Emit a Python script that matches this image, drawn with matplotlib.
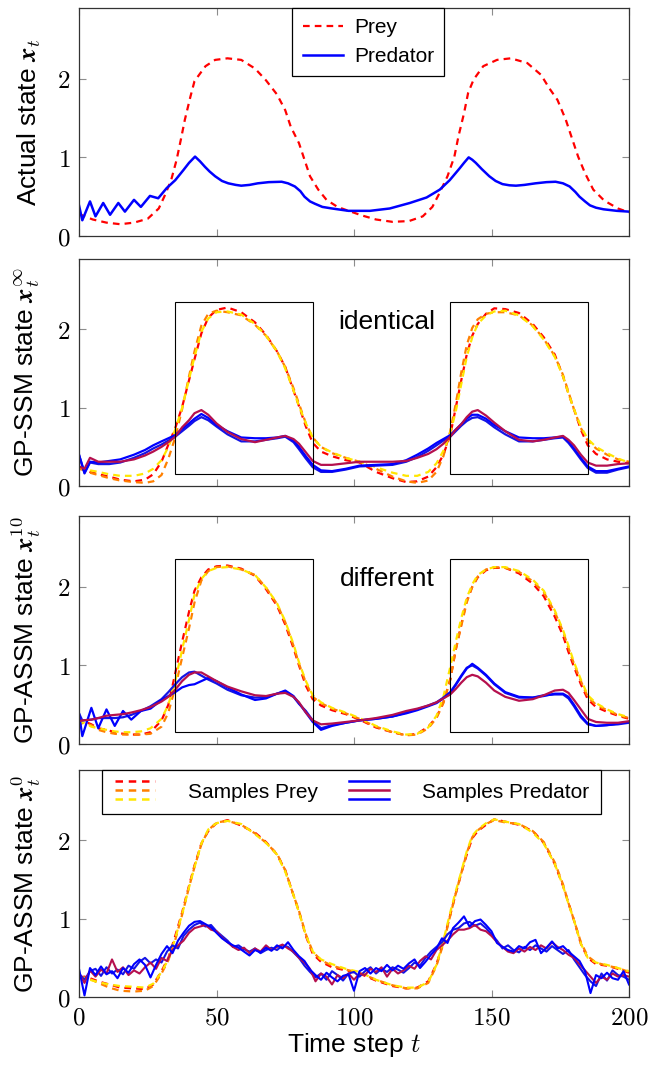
import numpy as np
import matplotlib
matplotlib.use('Agg')
import matplotlib.pyplot as plt
from matplotlib.lines import Line2D
from matplotlib.legend_handler import HandlerBase
from matplotlib.patches import Rectangle
from matplotlib.ticker import FixedLocator, FuncFormatter

plt.rcParams['font.family'] = ['Liberation Sans', 'DejaVu Sans']
plt.rcParams['mathtext.fontset'] = 'cm'

# ---- panel 1: actual state ----
t_true_prey = [0, 5, 10, 15, 20, 25, 29, 31, 33.5, 35.5, 37, 38.5, 40.5, 42, 46, 49.5, 54, 59, 64, 68,
               72, 75, 77, 80, 82, 84, 87, 90, 94, 98, 103, 108, 114, 120, 125, 128.5, 131, 134, 136.5, 138,
               140, 141.5, 143.5, 147, 152, 157, 163, 168, 171, 174, 177, 179, 181.5, 184, 187, 191, 196, 200]
true_prey = [0.28, 0.21, 0.17, 0.15, 0.17, 0.22, 0.35, 0.50, 0.71, 0.97, 1.22, 1.48, 1.77, 1.97, 2.16, 2.24, 2.26, 2.24, 2.13, 1.98,
             1.80, 1.60, 1.39, 1.18, 0.97, 0.76, 0.59, 0.46, 0.37, 0.32, 0.26, 0.21, 0.18, 0.19, 0.25, 0.37, 0.54, 0.76, 1.01, 1.27,
             1.56, 1.82, 1.99, 2.16, 2.24, 2.26, 2.20, 2.05, 1.88, 1.73, 1.48, 1.27, 1.01, 0.80, 0.59, 0.45, 0.35, 0.30]
t_true_pred = [0, 1.2, 4, 6, 8.8, 11.3, 14.3, 16.7, 20, 22.5, 25.8, 28.8, 31.9, 35, 38, 40, 42.2, 44, 45.8, 47.5,
               49.5, 52, 54.3, 57, 59, 62, 65, 69, 73.7, 76, 78.5, 80.5, 82, 84, 85.8, 88.5, 92, 98, 105.8, 113,
               120.3, 126.4, 131.2, 134.8, 138.4, 140, 141.7, 143, 144.3, 146.5, 149.2, 151.5, 154, 156.5, 158.9, 162, 166, 170, 173.3, 176,
               178.4, 180.5, 182, 184, 185.8, 188, 190.7, 195.6, 200]
true_pred = [0.39, 0.20, 0.44, 0.25, 0.42, 0.27, 0.42, 0.31, 0.46, 0.37, 0.51, 0.48, 0.61, 0.71, 0.84, 0.93, 1.01, 0.95, 0.88, 0.82,
             0.76, 0.70, 0.67, 0.65, 0.64, 0.65, 0.67, 0.685, 0.69, 0.67, 0.63, 0.57, 0.50, 0.44, 0.41, 0.37, 0.35, 0.32, 0.32, 0.35,
             0.42, 0.49, 0.59, 0.71, 0.86, 0.93, 1.00, 0.97, 0.93, 0.85, 0.76, 0.70, 0.66, 0.645, 0.64, 0.65, 0.67, 0.685, 0.69, 0.67,
             0.63, 0.56, 0.50, 0.44, 0.39, 0.36, 0.34, 0.32, 0.31]

# ---- panel 2: GP-SSM ----
t_ssm = [0, 2, 4, 7, 11, 15, 20, 24, 27, 30,
         32.5, 35, 37.5, 40, 42, 44.5, 47, 50, 54, 59,
         64, 68, 72, 75, 78, 80, 82.5, 85, 88, 92,
         97, 102, 108, 114, 119, 123, 127, 130, 132.5, 135,
         137, 139, 141, 143, 145, 148, 151, 155, 160, 165,
         169, 173, 176, 178, 180, 182.5, 185, 188, 192, 196, 200]
ssm_prey_red = [0.25, 0.21, 0.18, 0.15, 0.12, 0.08, 0.06, 0.08, 0.15, 0.31,
                0.53, 0.74, 1.01, 1.35, 1.62, 1.95, 2.15, 2.25, 2.28, 2.22,
                2.09, 1.93, 1.72, 1.52, 1.22, 1.02, 0.76, 0.55, 0.44, 0.38,
                0.33, 0.30, 0.18, 0.10, 0.05, 0.06, 0.12, 0.24, 0.40, 0.65,
                1.00, 1.35, 1.68, 1.92, 2.07, 2.20, 2.27, 2.26, 2.21, 2.07,
                1.90, 1.68, 1.40, 1.18, 0.98, 0.72, 0.52, 0.41, 0.34, 0.31, 0.29]
ssm_prey_orange = [0.22, 0.20, 0.17, 0.14, 0.10, 0.07, 0.05, 0.04, 0.06, 0.14,
                   0.35, 0.62, 0.98, 1.40, 1.72, 2.05, 2.20, 2.24, 2.22, 2.18,
                   2.06, 1.92, 1.72, 1.52, 1.25, 1.05, 0.80, 0.62, 0.50, 0.42,
                   0.36, 0.31, 0.22, 0.12, 0.06, 0.04, 0.07, 0.18, 0.38, 0.70,
                   1.05, 1.45, 1.80, 2.02, 2.13, 2.20, 2.22, 2.22, 2.18, 2.05,
                   1.88, 1.66, 1.42, 1.20, 0.98, 0.74, 0.58, 0.48, 0.40, 0.34, 0.31]
ssm_prey_yellow = [0.25, 0.22, 0.20, 0.18, 0.15, 0.13, 0.13, 0.16, 0.22, 0.33,
                   0.50, 0.72, 1.00, 1.36, 1.65, 1.97, 2.14, 2.22, 2.23, 2.19,
                   2.07, 1.92, 1.72, 1.50, 1.22, 1.02, 0.80, 0.62, 0.50, 0.43,
                   0.36, 0.31, 0.24, 0.17, 0.13, 0.13, 0.18, 0.29, 0.45, 0.68,
                   0.95, 1.30, 1.65, 1.90, 2.07, 2.18, 2.23, 2.24, 2.18, 2.04,
                   1.87, 1.65, 1.40, 1.18, 0.98, 0.76, 0.60, 0.50, 0.42, 0.35, 0.30]
ssm_pred_blue1 = [0.40, 0.17, 0.31, 0.30, 0.32, 0.34, 0.40, 0.46, 0.52, 0.57,
                  0.61, 0.65, 0.73, 0.80, 0.86, 0.92, 0.87, 0.78, 0.70, 0.62,
                  0.61, 0.61, 0.62, 0.64, 0.58, 0.50, 0.38, 0.27, 0.20, 0.19,
                  0.22, 0.26, 0.27, 0.28, 0.33, 0.40, 0.48, 0.55, 0.60, 0.65,
                  0.72, 0.79, 0.86, 0.91, 0.91, 0.86, 0.78, 0.70, 0.62, 0.61,
                  0.61, 0.62, 0.63, 0.57, 0.48, 0.36, 0.25, 0.19, 0.19, 0.22, 0.25]
ssm_pred_purple = [0.25, 0.22, 0.36, 0.31, 0.31, 0.31, 0.34, 0.39, 0.44, 0.50,
                   0.56, 0.63, 0.75, 0.84, 0.93, 0.97, 0.91, 0.80, 0.69, 0.60,
                   0.56, 0.59, 0.62, 0.64, 0.60, 0.54, 0.43, 0.32, 0.27, 0.27,
                   0.29, 0.31, 0.31, 0.31, 0.32, 0.36, 0.41, 0.47, 0.54, 0.63,
                   0.72, 0.79, 0.88, 0.95, 0.97, 0.90, 0.81, 0.70, 0.59, 0.57,
                   0.59, 0.62, 0.64, 0.59, 0.52, 0.40, 0.30, 0.26, 0.26, 0.28, 0.29]
ssm_pred_blue2 = [0.40, 0.16, 0.30, 0.28, 0.28, 0.30, 0.36, 0.42, 0.48, 0.53,
                  0.58, 0.63, 0.70, 0.77, 0.83, 0.88, 0.84, 0.76, 0.66, 0.57,
                  0.57, 0.59, 0.61, 0.63, 0.56, 0.47, 0.35, 0.24, 0.18, 0.18,
                  0.21, 0.25, 0.26, 0.27, 0.31, 0.37, 0.45, 0.52, 0.58, 0.63,
                  0.70, 0.77, 0.83, 0.87, 0.88, 0.83, 0.75, 0.66, 0.57, 0.57,
                  0.59, 0.61, 0.62, 0.55, 0.46, 0.34, 0.23, 0.17, 0.17, 0.21, 0.24]

# ---- panel 3: GP-ASSM, 10 steps ----
t_assm = [0, 1.2, 4.5, 7, 10, 13, 16, 19, 22.5, 26, 30,
          32.5, 35, 37.5, 40, 42, 44.5, 47, 50, 54, 59,
          64, 68, 72, 75, 78, 80, 82.5, 85, 88, 92,
          97, 102, 108, 114, 119, 123, 127, 130, 132.5, 135,
          137, 139, 141, 143, 145, 148, 151, 155, 160, 165,
          169, 173, 176, 178, 180, 182.5, 185, 188, 192, 196, 200]
assm_prey_red = [0.24, 0.30, 0.25, 0.20, 0.18, 0.15, 0.13, 0.12, 0.12, 0.15, 0.30,
                 0.50, 0.90, 1.30, 1.68, 1.95, 2.12, 2.22, 2.26, 2.27, 2.23,
                 2.14, 1.97, 1.76, 1.52, 1.22, 1.00, 0.74, 0.57, 0.49, 0.43,
                 0.38, 0.31, 0.21, 0.15, 0.11, 0.13, 0.22, 0.34, 0.53, 0.82,
                 1.20, 1.52, 1.82, 2.00, 2.12, 2.21, 2.24, 2.24, 2.17, 2.04,
                 1.88, 1.62, 1.38, 1.17, 0.98, 0.76, 0.57, 0.47, 0.41, 0.36, 0.32]
assm_prey_orange = [0.22, 0.27, 0.24, 0.18, 0.15, 0.13, 0.12, 0.12, 0.12, 0.13, 0.22,
                    0.40, 0.72, 1.10, 1.47, 1.80, 2.08, 2.20, 2.25, 2.26, 2.22,
                    2.15, 1.99, 1.78, 1.55, 1.25, 1.02, 0.78, 0.60, 0.52, 0.45,
                    0.39, 0.32, 0.22, 0.15, 0.11, 0.12, 0.20, 0.33, 0.52, 0.82,
                    1.20, 1.50, 1.80, 2.00, 2.13, 2.22, 2.25, 2.24, 2.19, 2.07,
                    1.93, 1.68, 1.43, 1.22, 1.02, 0.80, 0.60, 0.50, 0.43, 0.37, 0.33]
assm_prey_yellow = [0.25, 0.28, 0.22, 0.20, 0.18, 0.16, 0.15, 0.15, 0.16, 0.20, 0.32,
                    0.50, 0.80, 1.20, 1.58, 1.90, 2.10, 2.20, 2.24, 2.25, 2.22,
                    2.15, 1.99, 1.79, 1.56, 1.27, 1.04, 0.80, 0.62, 0.53, 0.46,
                    0.40, 0.33, 0.23, 0.16, 0.12, 0.13, 0.21, 0.36, 0.60, 0.98,
                    1.30, 1.60, 1.86, 2.03, 2.15, 2.22, 2.25, 2.25, 2.20, 2.09,
                    1.95, 1.70, 1.45, 1.25, 1.04, 0.82, 0.62, 0.52, 0.44, 0.38, 0.34]
assm_pred_blue1 = [0.39, 0.10, 0.46, 0.20, 0.44, 0.23, 0.42, 0.31, 0.42, 0.45, 0.56,
                   0.61, 0.66, 0.72, 0.75, 0.76, 0.80, 0.84, 0.80, 0.72, 0.63,
                   0.56, 0.58, 0.64, 0.68, 0.61, 0.52, 0.40, 0.28, 0.18, 0.23,
                   0.27, 0.30, 0.32, 0.35, 0.39, 0.43, 0.48, 0.52, 0.58, 0.65,
                   0.75, 0.86, 0.96, 1.02, 0.97, 0.88, 0.77, 0.66, 0.60, 0.59,
                   0.61, 0.64, 0.64, 0.60, 0.50, 0.36, 0.26, 0.23, 0.24, 0.26, 0.28]
assm_pred_purple = [0.29, 0.30, 0.31, 0.33, 0.36, 0.37, 0.38, 0.40, 0.43, 0.47, 0.54,
                    0.60, 0.69, 0.80, 0.88, 0.91, 0.91, 0.86, 0.80, 0.73, 0.67,
                    0.62, 0.61, 0.64, 0.65, 0.60, 0.53, 0.40, 0.30, 0.25, 0.26,
                    0.28, 0.30, 0.33, 0.37, 0.42, 0.45, 0.49, 0.53, 0.58, 0.63,
                    0.70, 0.78, 0.85, 0.88, 0.86, 0.78, 0.68, 0.60, 0.55, 0.57,
                    0.62, 0.68, 0.69, 0.65, 0.56, 0.44, 0.32, 0.28, 0.27, 0.27, 0.29]
assm_pred_blue2 = [0.39, 0.30, 0.31, 0.33, 0.33, 0.33, 0.34, 0.37, 0.42, 0.48, 0.57,
                   0.66, 0.76, 0.85, 0.91, 0.92, 0.87, 0.82, 0.77, 0.69, 0.62,
                   0.59, 0.60, 0.64, 0.67, 0.60, 0.51, 0.42, 0.30, 0.20, 0.24,
                   0.27, 0.30, 0.32, 0.35, 0.40, 0.44, 0.49, 0.53, 0.59, 0.66,
                   0.76, 0.87, 0.97, 1.00, 0.96, 0.87, 0.76, 0.65, 0.59, 0.59,
                   0.62, 0.63, 0.63, 0.58, 0.48, 0.34, 0.25, 0.23, 0.24, 0.25, 0.27]

# ---- panel 4: GP-ASSM, 0 steps (samples) ----
t_samp_prey = t_ssm
samp_prey_red = [0.25, 0.26, 0.24, 0.20, 0.16, 0.12, 0.11, 0.10, 0.16, 0.33,
                 0.50, 0.78, 1.08, 1.42, 1.68, 1.96, 2.12, 2.22, 2.26, 2.19,
                 2.10, 1.98, 1.82, 1.62, 1.30, 1.09, 0.78, 0.55, 0.45, 0.38,
                 0.34, 0.30, 0.21, 0.14, 0.11, 0.12, 0.20, 0.42, 0.70, 1.05,
                 1.32, 1.58, 1.82, 2.03, 2.12, 2.20, 2.27, 2.24, 2.20, 2.12,
                 1.97, 1.70, 1.42, 1.20, 0.98, 0.68, 0.50, 0.42, 0.40, 0.36, 0.31]
samp_prey_orange = [0.24, 0.25, 0.23, 0.18, 0.12, 0.08, 0.07, 0.08, 0.14, 0.30,
                    0.47, 0.73, 1.05, 1.40, 1.66, 1.95, 2.13, 2.23, 2.25, 2.20,
                    2.09, 1.97, 1.83, 1.62, 1.30, 1.10, 0.80, 0.58, 0.47, 0.40,
                    0.35, 0.31, 0.22, 0.15, 0.11, 0.11, 0.18, 0.40, 0.68, 1.04,
                    1.32, 1.58, 1.84, 2.04, 2.13, 2.21, 2.26, 2.23, 2.21, 2.12,
                    1.98, 1.72, 1.44, 1.20, 0.98, 0.70, 0.52, 0.44, 0.40, 0.37, 0.32]
samp_prey_yellow = [0.26, 0.24, 0.22, 0.19, 0.16, 0.14, 0.13, 0.12, 0.17, 0.32,
                    0.48, 0.75, 1.06, 1.40, 1.66, 1.96, 2.14, 2.22, 2.25, 2.21,
                    2.08, 1.97, 1.82, 1.60, 1.30, 1.08, 0.79, 0.58, 0.48, 0.42,
                    0.36, 0.32, 0.22, 0.15, 0.12, 0.12, 0.19, 0.41, 0.72, 1.08,
                    1.35, 1.60, 1.86, 2.06, 2.14, 2.22, 2.27, 2.24, 2.21, 2.10,
                    1.96, 1.70, 1.42, 1.19, 0.98, 0.68, 0.50, 0.44, 0.41, 0.37, 0.33]
t_samp_pred = np.arange(0, 201, 2)
samp_pred_blue1 = [0.36, 0.02, 0.37, 0.28, 0.39, 0.29, 0.33, 0.24, 0.37, 0.31,
                   0.42, 0.48, 0.41, 0.25, 0.41, 0.55, 0.65, 0.56, 0.72, 0.82,
                   0.91, 0.96, 0.97, 0.93, 0.89, 0.82, 0.75, 0.70, 0.66, 0.63,
                   0.58, 0.53, 0.60, 0.57, 0.63, 0.59, 0.66, 0.62, 0.70, 0.60,
                   0.52, 0.46, 0.35, 0.28, 0.22, 0.31, 0.25, 0.20, 0.27, 0.29,
                   0.08, 0.33, 0.37, 0.30, 0.37, 0.33, 0.41, 0.34, 0.40, 0.36,
                   0.43, 0.48, 0.37, 0.45, 0.54, 0.62, 0.75, 0.69, 0.88, 0.95,
                   1.03, 0.90, 0.97, 0.99, 0.92, 0.84, 0.69, 0.64, 0.60, 0.58,
                   0.65, 0.62, 0.70, 0.73, 0.56, 0.63, 0.71, 0.62, 0.65, 0.58,
                   0.52, 0.46, 0.33, 0.05, 0.28, 0.24, 0.31, 0.24, 0.22, 0.33, 0.16]
samp_pred_purple = [0.30, 0.18, 0.34, 0.26, 0.35, 0.30, 0.48, 0.32, 0.38, 0.28,
                    0.34, 0.30, 0.38, 0.44, 0.36, 0.50, 0.46, 0.60, 0.66, 0.72,
                    0.82, 0.88, 0.90, 0.92, 0.86, 0.84, 0.76, 0.70, 0.64, 0.60,
                    0.63, 0.56, 0.62, 0.58, 0.66, 0.60, 0.64, 0.67, 0.62, 0.58,
                    0.50, 0.44, 0.36, 0.20, 0.30, 0.26, 0.16, 0.28, 0.24, 0.30,
                    0.22, 0.30, 0.28, 0.36, 0.32, 0.38, 0.26, 0.36, 0.30, 0.34,
                    0.40, 0.36, 0.46, 0.52, 0.48, 0.60, 0.66, 0.72, 0.80, 0.86,
                    0.86, 0.88, 0.92, 0.86, 0.84, 0.78, 0.70, 0.64, 0.58, 0.56,
                    0.62, 0.58, 0.64, 0.60, 0.66, 0.62, 0.70, 0.64, 0.60, 0.54,
                    0.50, 0.42, 0.34, 0.26, 0.18, 0.26, 0.22, 0.30, 0.26, 0.28, 0.26]
samp_pred_blue2 = [0.30, 0.22, 0.33, 0.36, 0.27, 0.38, 0.30, 0.35, 0.29, 0.40,
                   0.36, 0.45, 0.50, 0.43, 0.48, 0.44, 0.58, 0.66, 0.62, 0.78,
                   0.86, 0.92, 0.95, 0.90, 0.92, 0.84, 0.78, 0.72, 0.64, 0.66,
                   0.61, 0.58, 0.62, 0.56, 0.60, 0.63, 0.60, 0.66, 0.64, 0.57,
                   0.50, 0.40, 0.32, 0.25, 0.30, 0.22, 0.33, 0.28, 0.21, 0.30,
                   0.32, 0.26, 0.33, 0.38, 0.30, 0.36, 0.32, 0.38, 0.35, 0.31,
                   0.37, 0.44, 0.40, 0.50, 0.58, 0.64, 0.70, 0.80, 0.86, 0.88,
                   0.94, 0.96, 0.91, 0.94, 0.88, 0.80, 0.72, 0.62, 0.66, 0.60,
                   0.57, 0.64, 0.60, 0.66, 0.62, 0.58, 0.65, 0.60, 0.55, 0.60,
                   0.48, 0.38, 0.28, 0.20, 0.14, 0.30, 0.21, 0.34, 0.28, 0.26, 0.22]

ylabels = [r'Actual state $\mathbfit{x}_t$',
           r'GP-SSM state $\mathbfit{x}_t^{\infty}$',
           r'GP-ASSM state $\mathbfit{x}_t^{10}$',
           r'GP-ASSM state $\mathbfit{x}_t^{0}$']
box_ranges = [(35, 85), (135, 185)]

RED = '#ff0000'
ORANGE = '#ff8000'
YELLOW = '#ffe600'
PURPLE = '#b5104e'
BLUE = '#0000ff'
BLUE2 = '#1414e6'


class StackedLines(HandlerBase):
    # legend handle with three stacked lines
    def __init__(self, colors, ls):
        super().__init__()
        self.colors = colors
        self.ls = ls

    def create_artists(self, legend, orig_handle, xdescent, ydescent, width, height, fontsize, trans):
        arts = []
        gap = 0.62 * height
        for i, c in enumerate(self.colors):
            y = height / 2 - ydescent + (1 - i) * gap
            arts.append(Line2D([-xdescent, width - xdescent], [y, y], color=c, ls=self.ls,
                               lw=1.8, transform=trans))
        return arts


W, H = 649, 1065
fig = plt.figure(figsize=(W / 100, H / 100), dpi=100)

# panel pixel extents (top, bottom)
panel_px = [(8, 236), (259, 486), (516, 744), (770, 997)]
left_px, right_px = 79, 629
axes = []
for top, bot in panel_px:
    ax = fig.add_axes([left_px / W, 1 - bot / H, (right_px - left_px) / W, (bot - top) / H])
    axes.append(ax)

dash = dict(ls=(0, (3.0, 2.3)), lw=1.6)

# panel 1
ax = axes[0]
ax.plot(t_true_prey, true_prey, color=RED, label='Prey', **dash)
ax.plot(t_true_pred, true_pred, color=BLUE, lw=1.8, label='Predator')
leg = ax.legend(loc='upper left', bbox_to_anchor=(0.388, 1.0), borderaxespad=0, fontsize=15,
                handlelength=1.95, handletextpad=0.5, labelspacing=0.45, borderpad=0.5,
                fancybox=False, framealpha=1, edgecolor='black')
leg.get_frame().set_linewidth(0.9)

# panels 2 and 3
for ax, t, pr, po, py, b1, pp, b2, word in [
        (axes[1], t_ssm, ssm_prey_red, ssm_prey_orange, ssm_prey_yellow,
         ssm_pred_blue1, ssm_pred_purple, ssm_pred_blue2, 'identical'),
        (axes[2], t_assm, assm_prey_red, assm_prey_orange, assm_prey_yellow,
         assm_pred_blue1, assm_pred_purple, assm_pred_blue2, 'different')]:
    ax.plot(t, pr, color=RED, **dash)
    ax.plot(t, po, color=ORANGE, **dash)
    ax.plot(t, py, color=YELLOW, **dash)
    ax.plot(t, b2, color=BLUE2, lw=1.6)
    ax.plot(t, b1, color=BLUE, lw=1.6)
    ax.plot(t, pp, color=PURPLE, lw=1.6)
    for a, b in box_ranges:
        ax.add_patch(Rectangle((a, 0.15), b - a, 2.2, fill=False, ec='black', lw=0.8, zorder=5))
    ax.text(112, 2.1, word, fontsize=19, ha='center', va='center')

# panel 4
ax = axes[3]
ax.plot(t_samp_prey, samp_prey_red, color=RED, **dash)
ax.plot(t_samp_prey, samp_prey_orange, color=ORANGE, **dash)
ax.plot(t_samp_prey, samp_prey_yellow, color=YELLOW, **dash)
ax.plot(t_samp_pred, samp_pred_blue2, color=BLUE2, lw=1.5)
ax.plot(t_samp_pred, samp_pred_purple, color=PURPLE, lw=1.5)
ax.plot(t_samp_pred, samp_pred_blue1, color=BLUE, lw=1.5)
h_prey = Line2D([], [], color=RED)
h_pred = Line2D([], [], color=BLUE)
leg = ax.legend([h_prey, h_pred], ['Samples Prey', 'Samples Predator'],
                handler_map={h_prey: StackedLines([RED, ORANGE, YELLOW], (0, (3.0, 2.3))),
                             h_pred: StackedLines([BLUE, PURPLE, BLUE], '-')},
                loc='upper left', bbox_to_anchor=(0.042, 1.0), borderaxespad=0, ncol=2,
                fontsize=15, handlelength=1.95, handletextpad=1.55, columnspacing=1.5,
                borderpad=0.6, fancybox=False, framealpha=1, edgecolor='black')
leg.get_frame().set_linewidth(0.9)
ax.set_xlabel(r'Time step $t$', fontsize=19, labelpad=1)

fmt = FuncFormatter(lambda v, p: '$%d$' % v)
for i, ax in enumerate(axes):
    ax.set_xlim(0, 200)
    ax.set_ylim(0, 2.9)
    ax.xaxis.set_major_locator(FixedLocator([0, 50, 100, 150, 200]))
    ax.yaxis.set_major_locator(FixedLocator([0, 1, 2]))
    ax.yaxis.set_major_formatter(fmt)
    ax.xaxis.set_major_formatter(fmt)
    ax.tick_params(direction='in', length=5, width=0.8, color='#8c8c8c', top=True, right=True,
                   labelsize=18, pad=6)
    if i < 3:
        ax.tick_params(labelbottom=False)
    for s in ax.spines.values():
        s.set_linewidth(0.9)
        s.set_color('#333333')
    ax.set_ylabel(ylabels[i], fontsize=19)
    ax.yaxis.set_label_coords(-0.066, 0.5)

fig.savefig('out.png', dpi=100)
